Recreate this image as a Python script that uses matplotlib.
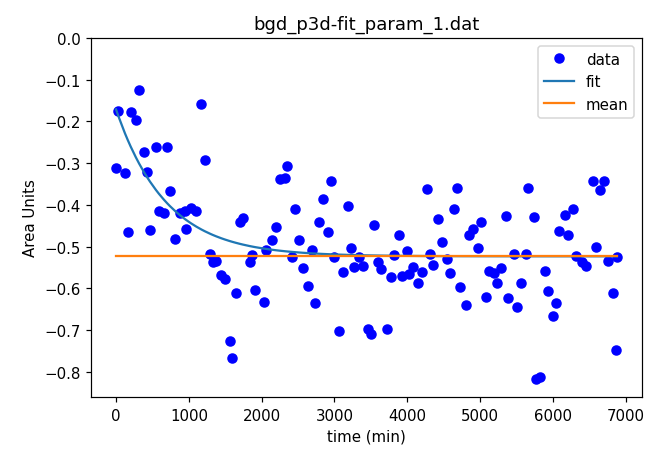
import numpy as np
import matplotlib
matplotlib.use('Agg')
import matplotlib.pyplot as plt

# data
time_min = [0, 32, 123, 160, 201, 274, 319, 388, 429, 466, 548, 589, 658, 703, 740,
            817, 877, 945, 968, 1027, 1105, 1174, 1219, 1297, 1333, 1379, 1447, 1493,
            1562, 1598, 1644, 1699, 1744, 1836, 1872, 1913, 2035, 2060, 2141, 2192,
            2247, 2315, 2352, 2415, 2461, 2507, 2566, 2644, 2689, 2735, 2795, 2840,
            2909, 2954, 3000, 3068, 3123, 3182, 3228, 3274, 3342, 3388, 3457, 3502,
            3539, 3594, 3639, 3717, 3776, 3813, 3890, 3927, 3995, 4027, 4082, 4151,
            4210, 4278, 4315, 4361, 4425, 4475, 4544, 4585, 4644, 4685, 4720, 4813,
            4849, 4909, 4973, 5009, 5078, 5123, 5192, 5237, 5283, 5352, 5388, 5466,
            5511, 5557, 5626, 5662, 5740, 5776, 5831, 5890, 5936, 6004, 6050, 6092,
            6164, 6210, 6279, 6324, 6402, 6461, 6548, 6594, 6644, 6708, 6758, 6822,
            6872, 6881]
area = [-0.312, -0.174, -0.323, -0.465, -0.178, -0.196, -0.125, -0.272, -0.320, -0.461,
        -0.260, -0.414, -0.418, -0.260, -0.367, -0.481, -0.420, -0.414, -0.457, -0.408,
        -0.414, -0.158, -0.292, -0.517, -0.536, -0.533, -0.568, -0.577, -0.726, -0.766,
        -0.612, -0.440, -0.430, -0.537, -0.520, -0.603, -0.632, -0.507, -0.485, -0.453,
        -0.338, -0.335, -0.306, -0.525, -0.410, -0.485, -0.552, -0.595, -0.507, -0.635,
        -0.441, -0.386, -0.465, -0.343, -0.525, -0.701, -0.561, -0.402, -0.503, -0.548,
        -0.525, -0.545, -0.697, -0.709, -0.447, -0.537, -0.553, -0.697, -0.572, -0.519,
        -0.473, -0.569, -0.511, -0.565, -0.549, -0.587, -0.561, -0.362, -0.517, -0.544,
        -0.434, -0.488, -0.529, -0.564, -0.410, -0.360, -0.597, -0.640, -0.473, -0.457,
        -0.504, -0.441, -0.620, -0.557, -0.563, -0.587, -0.552, -0.426, -0.624, -0.517,
        -0.644, -0.587, -0.517, -0.360, -0.429, -0.817, -0.813, -0.557, -0.605, -0.667,
        -0.635, -0.463, -0.424, -0.472, -0.410, -0.523, -0.537, -0.545, -0.343, -0.501,
        -0.363, -0.343, -0.535, -0.611, -0.747, -0.524]

# exponential fit parameters and mean level
fit_amp = 0.352
fit_tau = 690.0
fit_offset = -0.523
mean_level = -0.523

t = np.array(time_min, dtype=float)
y_fit = fit_offset + fit_amp * np.exp(-t / fit_tau)

fig = plt.figure(figsize=(6.0, 451 / 108), dpi=108)
ax = fig.add_axes([0.1404, 0.1175, 0.8503, 0.796])

ax.plot(time_min, area, 'bo', label='data')
ax.plot(t, y_fit, label='fit')
ax.plot(t, np.full_like(t, mean_level), label='mean')

ax.set_ylim(-0.86, 0.0)
ax.set_xlabel('time (min)')
ax.set_ylabel('Area Units')
ax.set_title('bgd_p3d-fit_param_1.dat')
ax.legend(loc='upper right')

plt.savefig('out.png', dpi=108)
